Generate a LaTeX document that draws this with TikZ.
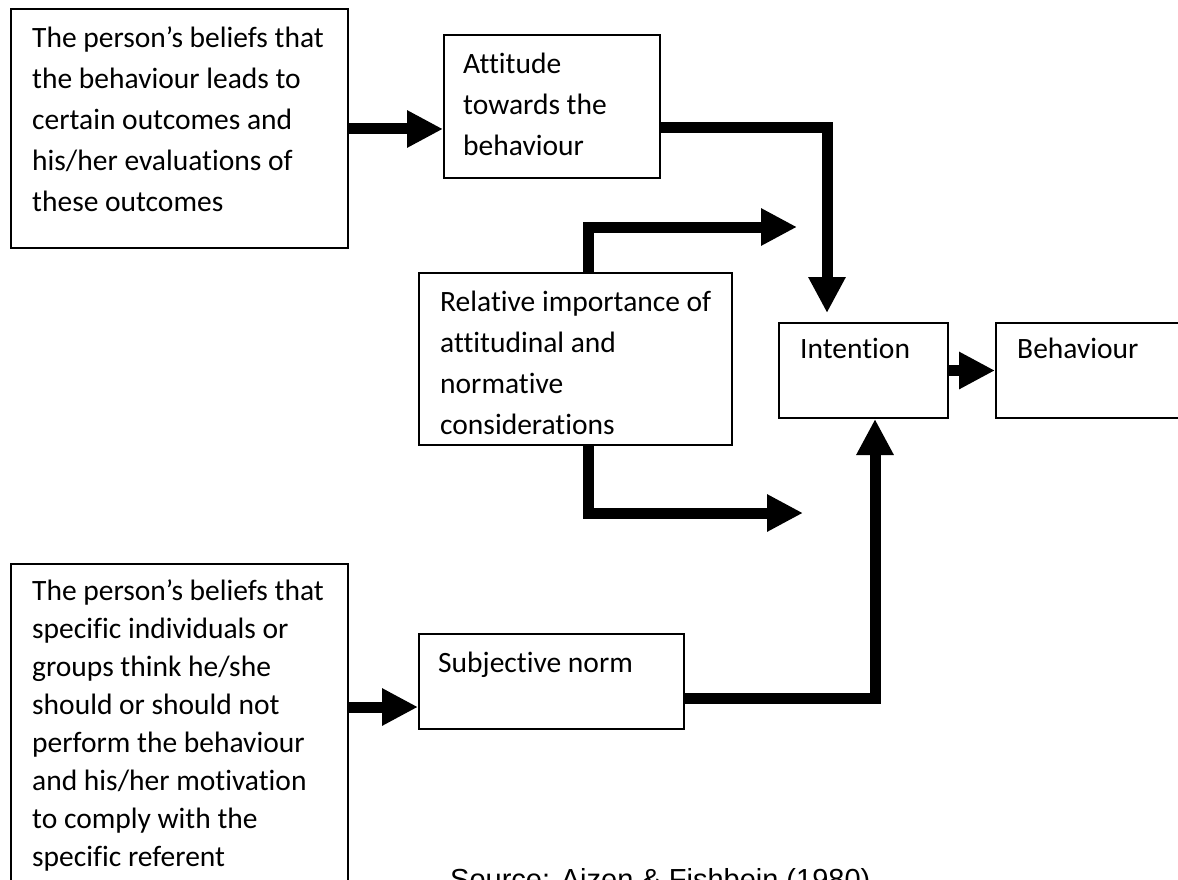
\documentclass[tikz,border=0pt]{standalone}
\usepackage{fontspec}
\setmainfont[Ligatures=CommonOff]{Carlito}
\newfontfamily\capfont{Liberation Sans}
\usetikzlibrary{arrows.meta}
\newcommand\lnstrut{\rule{0pt}{30pt}}
\begin{document}
\begin{tikzpicture}[x=1pt,y=-1pt,
  box/.style={draw, line width=2pt, anchor=north west, inner sep=0pt},
  lbl/.style={anchor=north west, inner sep=0pt, align=left, font=\fontsize{29.5}{41}\selectfont},
  arr/.style={line width=11pt, -{Triangle[width=35pt,length=36pt]}}
]
\useasboundingbox (0,0) rectangle (1178,880);
\clip (0,0) rectangle (1178,880);
% boxes
\node[box, minimum width=337pt, minimum height=239pt] (b1) at (10,8) {};
\node[box, minimum width=216pt, minimum height=143pt] (att) at (443,34) {};
\node[box, minimum width=313pt, minimum height=172pt] (rel) at (418,272) {};
\node[box, minimum width=169pt, minimum height=95pt] (int) at (778,322) {};
\node[box, minimum width=190pt, minimum height=95pt] (beh) at (995,322) {};
\node[box, minimum width=265pt, minimum height=95pt] (sub) at (418,633) {};
\node[box, minimum width=337pt, minimum height=340pt] (b2) at (10,563) {};
% texts
\node[lbl] (t1) at (32,17) {\lnstrut The person’s beliefs that\\the behaviour leads to\\certain outcomes and\\his/her evaluations of\\these outcomes};
\node[lbl] (t2) at (463,43) {\lnstrut Attitude\\towards the\\behaviour};
\node[lbl] (t3) at (440,281) {\lnstrut Relative importance of\\attitudinal and\\normative\\considerations};
\node[lbl] (t4) at (800,328) {\lnstrut Intention};
\node[lbl] (t5) at (1017,328) {\lnstrut Behaviour};
\node[lbl] (t6) at (438,642) {\lnstrut Subjective norm};
\node[lbl, font=\fontsize{29.5}{38}\selectfont] (t7) at (32,570) {\lnstrut The person’s beliefs that\\specific individuals or\\groups think he/she\\should or should not\\perform the behaviour\\and his/her motivation\\to comply with the\\specific referent};
\node[anchor=base west, inner sep=0pt, font=\capfont\fontsize{29}{34}\selectfont] (cap) at (450,889) {Source: Ajzen \& Fishbein (1980)};
% free ends
\coordinate (e1) at (797,227);
\coordinate (e2) at (803,513);
% connectors
\draw[arr] (b1.east |- 0,129) -- (att.west |- 0,129);
\draw[arr, shorten >=9pt] (att.east |- 0,128) -| (int.north -| 827,0);
\draw[arr] (rel.north -| 588,0) |- (e1);
\draw[arr] (rel.south -| 588,0) |- (e2);
\draw[arr] (int.east) -- (beh.west);
\draw[arr] (b2.east |- 0,707) -- (sub.west |- 0,707);
\draw[arr] (sub.east |- 0,698) -| (int.south -| 875,0);
\end{tikzpicture}
\end{document}
